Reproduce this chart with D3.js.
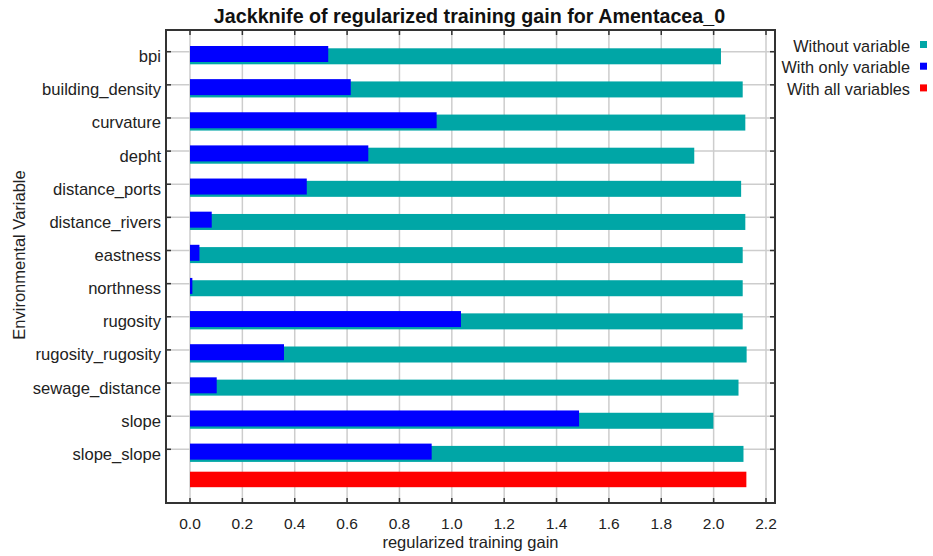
<!DOCTYPE html>
<html>
<head>
<meta charset="utf-8">
<script src="https://cdn.jsdelivr.net/npm/d3@7"></script>
<style>
  html, body { margin: 0; padding: 0; background: #fff; }
  svg { display: block; font-family: "Liberation Sans", Arial, sans-serif; }
</style>
</head>
<body>
<svg id="chart" width="933" height="556"></svg>
<script>
const variables = ["bpi", "building_density", "curvature", "depht", "distance_ports", "distance_rivers",
  "eastness", "northness", "rugosity", "rugosity_rugosity", "sewage_distance", "slope", "slope_slope"];
const withoutVariable = [2.028, 2.111, 2.121, 1.926, 2.105, 2.121, 2.111, 2.111, 2.111, 2.126, 2.095, 1.999, 2.114];
const withOnlyVariable = [0.528, 0.614, 0.942, 0.681, 0.446, 0.083, 0.036, 0.009, 1.035, 0.359, 0.102, 1.486, 0.923];
const withAllVariables = 2.125;
const xTicks = [0, 0.2, 0.4, 0.6, 0.8, 1.0, 1.2, 1.4, 1.6, 1.8, 2.0, 2.2];
const legendItems = [
  { label: "Without variable", color: "#00a6a6" },
  { label: "With only variable", color: "#0000ff" },
  { label: "With all variables", color: "#ff0000" }
];
const title = "Jackknife of regularized training gain for Amentacea_0";
const xTitle = "regularized training gain";
const yTitle = "Environmental Variable";

const plot = { left: 166, right: 775, top: 30, bottom: 503 };
const svg = d3.select("#chart");

const x = d3.scaleLinear().domain([0, 2.2]).range([190, 766]);
const y = d3.scalePoint().domain(variables).range([51.7, 449.3]);
const step = y.step();
const barH = 16;

// gridlines
const grid = svg.append("g").attr("stroke", "#cdcdcd").attr("stroke-width", 1.5);
grid.selectAll(".vg").data(xTicks).join("line")
  .attr("x1", d => x(d)).attr("x2", d => x(d))
  .attr("y1", plot.top).attr("y2", plot.bottom);
grid.selectAll(".hg").data(variables).join("line")
  .attr("x1", plot.left).attr("x2", plot.right)
  .attr("y1", d => y(d)).attr("y2", d => y(d));

// bars: without (teal), with only (blue)
const rows = variables.map((v, i) => ({ v, without: withoutVariable[i], only: withOnlyVariable[i] }));
svg.append("g").selectAll("rect").data(rows).join("rect")
  .attr("x", x(0)).attr("y", d => y(d.v) - 3.4)
  .attr("width", d => x(d.without) - x(0)).attr("height", barH)
  .attr("fill", "#00a6a6");
svg.append("g").selectAll("rect").data(rows).join("rect")
  .attr("x", x(0)).attr("y", d => y(d.v) - 5.7)
  .attr("width", d => x(d.only) - x(0)).attr("height", barH)
  .attr("fill", "#0000ff");
// with all variables (red)
svg.append("rect")
  .attr("x", x(0)).attr("y", y(variables[variables.length - 1]) + step * 0.676)
  .attr("width", x(withAllVariables) - x(0)).attr("height", 15.5)
  .attr("fill", "#ff0000");

// ticks (inward)
const tk = svg.append("g").attr("stroke", "#333").attr("stroke-width", 1.5);
tk.selectAll(".tb").data(xTicks).join("line")
  .attr("x1", d => x(d)).attr("x2", d => x(d)).attr("y1", plot.bottom).attr("y2", plot.bottom - 5);
tk.selectAll(".tt").data(xTicks).join("line")
  .attr("x1", d => x(d)).attr("x2", d => x(d)).attr("y1", plot.top).attr("y2", plot.top + 5);
tk.selectAll(".tl").data(variables).join("line")
  .attr("x1", plot.left).attr("x2", plot.left + 5).attr("y1", d => y(d)).attr("y2", d => y(d));
tk.selectAll(".tr").data(variables).join("line")
  .attr("x1", plot.right).attr("x2", plot.right - 5).attr("y1", d => y(d)).attr("y2", d => y(d));

// frame
svg.append("rect")
  .attr("x", plot.left).attr("y", plot.top)
  .attr("width", plot.right - plot.left).attr("height", plot.bottom - plot.top)
  .attr("fill", "none").attr("stroke", "#333").attr("stroke-width", 2);

// tick labels
svg.append("g").selectAll("text").data(xTicks).join("text")
  .attr("x", d => x(d)).attr("y", 528.5)
  .attr("text-anchor", "middle").attr("font-size", 15.5).attr("fill", "#222")
  .text(d => d3.format(".1f")(d));
svg.append("g").selectAll("text").data(variables).join("text")
  .attr("x", 161).attr("y", d => y(d) + 10.5)
  .attr("text-anchor", "end").attr("font-size", 16.6).attr("fill", "#222")
  .text(d => d);

// titles
svg.append("text").attr("x", (plot.left + plot.right) / 2 - 1).attr("y", 23)
  .attr("text-anchor", "middle").attr("font-size", 19.7).attr("font-weight", "bold").attr("fill", "#111")
  .text(title);
svg.append("text").attr("x", (plot.left + plot.right) / 2).attr("y", 548)
  .attr("text-anchor", "middle").attr("font-size", 16.5).attr("fill", "#222")
  .text(xTitle);
svg.append("text").attr("transform", "translate(25,255) rotate(-90)")
  .attr("text-anchor", "middle").attr("font-size", 16.5).attr("fill", "#222")
  .text(yTitle);

// legend
const lg = svg.append("g").selectAll("g").data(legendItems).join("g")
  .attr("transform", (d, i) => `translate(0,${51.5 + i * 21.7})`);
lg.append("text").attr("x", 910).attr("y", 0).attr("text-anchor", "end")
  .attr("font-size", 16.3).attr("fill", "#222").text(d => d.label);
lg.append("rect").attr("x", 920).attr("y", -10.5).attr("width", 7).attr("height", 7)
  .attr("fill", d => d.color);
</script>
</body>
</html>
